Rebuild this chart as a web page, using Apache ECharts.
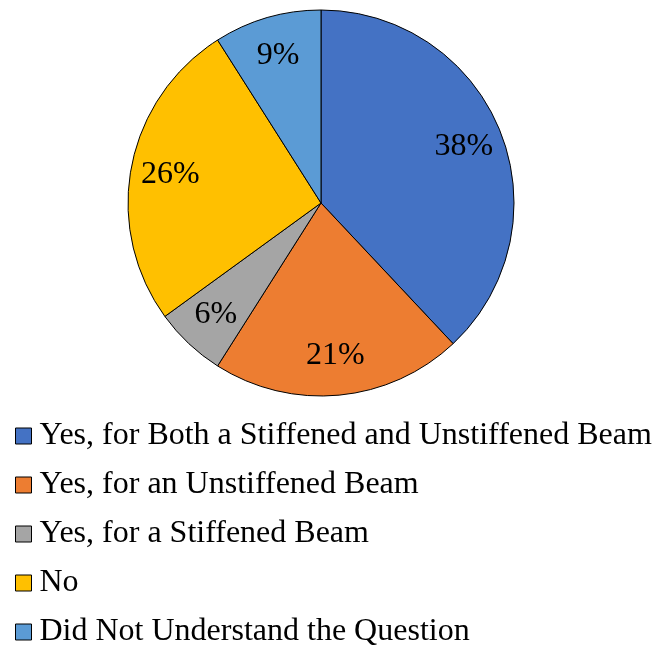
<!DOCTYPE html>
<html>
<head>
<meta charset="utf-8">
<script src="https://cdn.jsdelivr.net/npm/echarts@6/dist/echarts.min.js"></script>
<style>html,body{margin:0;padding:0;background:#fff;}#c{width:657px;height:649px;}</style>
</head>
<body>
<div id="c"></div>
<script>
const categories = [
  "Yes, for Both a Stiffened and Unstiffened Beam",
  "Yes, for an Unstiffened Beam",
  "Yes, for a Stiffened Beam",
  "No",
  "Did Not Understand the Question"
];
const values = [38, 21, 6, 26, 9];
const colors = ["#4472C4", "#ED7D31", "#A5A5A5", "#FFC000", "#5B9BD5"];

const data = categories.map((n, i) => ({ name: n, value: values[i], itemStyle: { color: colors[i] } }));
const font = '"Liberation Serif", "Times New Roman", serif';

const chart = echarts.init(document.getElementById('c'), null, { renderer: 'canvas' });
chart.setOption({
  animation: false,
  backgroundColor: '#fff',
  legend: {
    orient: 'vertical',
    left: 15,
    top: 419,
    height: 240,
    padding: 0,
    icon: 'rect',
    itemWidth: 16,
    itemHeight: 16,
    itemGap: 15,
    itemStyle: { borderColor: '#000', borderWidth: 1 },
    textStyle: { fontFamily: font, fontSize: 32, color: '#000', lineHeight: 34, padding: [0, 0, 0, 3] },
    data: categories
  },
  series: [
    {
      type: 'pie',
      center: [321, 203],
      radius: [0, 193],
      startAngle: 90,
      clockwise: true,
      label: { show: false },
      labelLine: { show: false },
      itemStyle: { borderColor: '#000', borderWidth: 1 },
      emphasis: { disabled: true },
      data: data
    },
    {
      type: 'pie',
      center: [321, 203],
      radius: [108, 193],
      startAngle: 90,
      clockwise: true,
      silent: true,
      legendHoverLink: false,
      itemStyle: { color: 'rgba(0,0,0,0)', borderWidth: 0 },
      label: {
        show: true,
        position: 'inside',
        formatter: p => p.value + '%',
        fontFamily: font,
        fontSize: 32,
        color: '#000'
      },
      labelLine: { show: false },
      emphasis: { disabled: true },
      data: categories.map((n, i) => ({ name: n + ' ', value: values[i] }))
    }
  ]
});
</script>
</body>
</html>
